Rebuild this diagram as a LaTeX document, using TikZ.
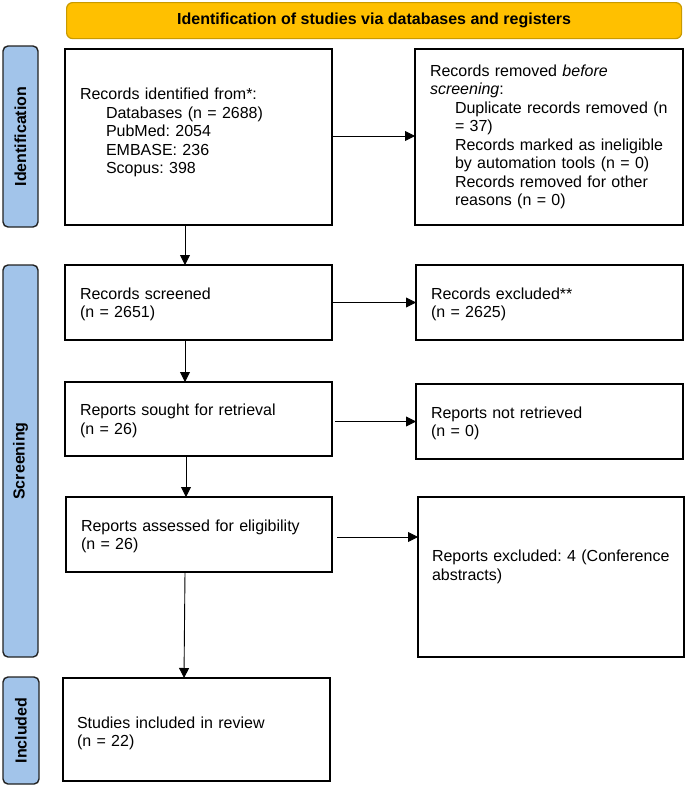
\documentclass[tikz,border=0pt]{standalone}
\usepackage{fontspec}
\setmainfont{Liberation Sans}
\usetikzlibrary{arrows.meta,calc}
\definecolor{bannerfill}{HTML}{FFC000}
\definecolor{bannerline}{HTML}{C99A00}
\definecolor{barfill}{HTML}{A2C4EA}
\definecolor{barline}{HTML}{222222}
\newcommand{\toprule}[1]{\rule{0pt}{#1}}
\begin{document}
\frenchspacing
\hyphenpenalty=10000
\begin{tikzpicture}[x=1pt,y=-1pt,
  font=\fontsize{16}{18.5}\selectfont,
  flowbox/.style={draw=black, line width=1.2pt, rectangle, anchor=north west,
    align=left, inner xsep=15pt, inner ysep=0pt, outer sep=0pt},
  phasebar/.style={draw=barline, fill=barfill, line width=1.4pt, rounded corners=5pt,
    rectangle, anchor=north west, inner sep=0pt, outer sep=0pt, minimum width=35pt},
  phaselabel/.style={rotate=90, font=\fontsize{16}{18.5}\selectfont\bfseries},
  arr/.style={draw=black, line width=0.9pt, -{Triangle[length=10pt,width=10pt]}}]
\useasboundingbox (0,0) rectangle (685,785);

% banner
\node[draw=bannerline, fill=bannerfill, line width=1.2pt, rounded corners=6pt,
  anchor=north west, minimum width=615pt, minimum height=36pt, inner sep=0pt,
  font=\fontsize{16}{18.5}\selectfont\bfseries] (banner) at (66,2)
  {Identification of studies via databases and registers};

% phase bars
\node[phasebar, minimum height=181pt] (idbar) at (3,46) {};
\node[phaselabel] (idlabel) at (idbar.center) {Identification};
\node[phasebar, minimum height=392pt] (scbar) at (3,265) {};
\node[phaselabel] (sclabel) at (scbar.center) {Screening};
\node[phasebar, minimum height=107pt, minimum width=36pt] (inbar) at (3,677) {};
\node[phaselabel] (inlabel) at (inbar.center) {Included};

% boxes
\node[flowbox, text width=237pt, minimum height=176pt] (b1) at (65,49)
  {\toprule{14pt}Records identified from*:\\
   \hspace*{26pt}Databases (n = 2688)\\
   \hspace*{26pt}PubMed: 2054\\
   \hspace*{26pt}EMBASE: 236\\
   \hspace*{26pt}Scopus: 398\\[-10pt]
   \strut};
\node[flowbox, text width=238pt, minimum height=176pt] (b2) at (415,49)
  {Records removed \textit{before}\\
   \textit{screening}:\\
   \hspace*{25pt}Duplicate records removed (n\\
   \hspace*{25pt}= 37)\\
   \hspace*{25pt}Records marked as ineligible\\
   \hspace*{25pt}by automation tools (n = 0)\\
   \hspace*{25pt}Records removed for other\\
   \hspace*{25pt}reasons (n = 0)};
\node[flowbox, text width=237pt, minimum height=75pt] (b3) at (65,265)
  {\toprule{15pt}Records screened\\(n = 2651)};
\node[flowbox, text width=237pt, minimum height=75pt] (b4) at (416,265)
  {\toprule{15pt}Records excluded**\\(n = 2625)};
\node[flowbox, text width=237pt, minimum height=74pt] (b5) at (65,382)
  {\toprule{15pt}Reports sought for retrieval\\(n = 26)};
\node[flowbox, text width=237pt, minimum height=75pt] (b6) at (416,384)
  {\toprule{15pt}Reports not retrieved\\(n = 0)};
\node[flowbox, text width=236pt, minimum height=75pt] (b7) at (66,497)
  {\toprule{15pt}Reports assessed for eligibility\\(n = 26)};
\node[flowbox, text width=238pt, minimum height=160pt, inner xsep=14pt] (b8) at (418,497)
  {Reports excluded: 4 (Conference\\abstracts)\\\strut};
\node[flowbox, text width=239pt, minimum height=103pt, inner xsep=14pt] (b9) at (63,678)
  {\toprule{19pt}Studies included in review\\(n = 22)};

% horizontal arrows
\draw[arr] ($(b1.east)+(0,-1)$) -- ($(b1.east -| b2.west)+(0,-1)$);
\draw[arr] (b3.east) -- (b3.east -| b4.west);
\draw[arr] ($(b6.west -| b5.east)+(3,0)$) -- (b6.west);
\draw[arr] ($(b7.east)+(5,2.5)$) -- ($(b7.east -| b8.west)+(0,2.5)$);

% vertical arrows
\draw[arr] ($(b1.south west)+(120,0)$) -- ($(b3.north west)+(120,0)$);
\draw[arr] ($(b3.south west)+(120,0)$) -- ($(b5.north west)+(120,0)$);
\draw[arr] ($(b5.south west)+(121,0)$) -- ($(b7.north west)+(120,0)$);
\draw[arr] ($(b7.south west)+(119,0)$) -- ($(b9.north west)+(121,0)$);
\end{tikzpicture}
\end{document}
